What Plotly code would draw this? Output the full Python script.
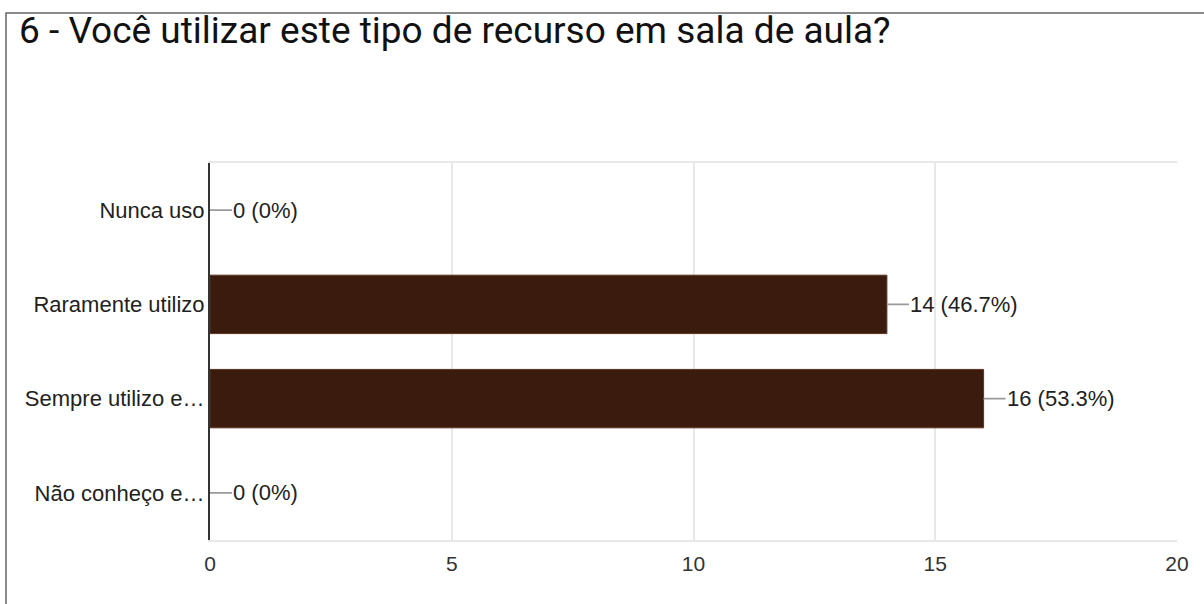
import plotly.graph_objects as go

categories = ["Nunca uso", "Raramente utilizo", "Sempre utilizo e…", "Não conheço e…"]
counts = [0, 14, 16, 0]
x_ticks = [0, 5, 10, 15, 20]

total = sum(counts)
labels = [f"{c} ({round(c / total * 100, 1):g}%)" for c in counts]

FONT = "Liberation Sans, Arial"

fig = go.Figure()
fig.add_trace(go.Bar(
    y=categories, x=counts, orientation="h",
    marker=dict(color="#3a1b0e",
                line=dict(color="#5a3520", width=[0 if c == 0 else 1 for c in counts])),
    width=0.62, hoverinfo="skip",
))

for cat, val, lab in zip(categories, counts, labels):
    fig.add_annotation(
        x=val, y=cat, text=lab, showarrow=True, arrowhead=0,
        ax=22, ay=0, xanchor="left", arrowcolor="#9a9a9a", arrowwidth=1.6,
        font=dict(family=FONT, size=22, color="#222222"),
        borderpad=0,
    )

fig.update_layout(
    width=1204, height=604,
    margin=dict(l=210, r=27, t=163, b=64),
    paper_bgcolor="white", plot_bgcolor="white",
    showlegend=False,
    title=dict(
        text="6 - Você utilizar este tipo de recurso em sala de aula?",
        x=19 / 1204, xref="container", xanchor="left",
        y=1 - 17 / 604, yref="container", yanchor="top",
        pad=dict(l=0, t=0),
        font=dict(family="Roboto", size=37, color="#111111"),
    ),
    xaxis=dict(
        range=[0, 20], tickvals=x_ticks, showgrid=True, gridcolor="#e8e8e8", gridwidth=1.5,
        zeroline=False, showline=True, linecolor="#e8e8e8", linewidth=1.5, mirror=True,
        tickfont=dict(family=FONT, size=21, color="#333333"),
        ticks="", ticklabelstandoff=4, fixedrange=True,
    ),
    yaxis=dict(
        categoryorder="array", categoryarray=categories, autorange="reversed",
        showline=True, linecolor="#333333", linewidth=2, showgrid=False, zeroline=False,
        tickfont=dict(family=FONT, size=22, color="#222222"),
        ticks="", ticklabelstandoff=-1,
    ),
)

# outer card border (top and left visible)
fig.add_shape(type="rect", xref="paper", yref="paper",
              x0=-204 / 967, x1=1.2, y0=-0.5, y1=(604 - 13 - 64) / 377,
              line=dict(color="#666666", width=1.5), fillcolor="rgba(0,0,0,0)", layer="below")

fig.write_html("out.html", config={"displayModeBar": False},
               post_script="document.body.style.margin='0';")
